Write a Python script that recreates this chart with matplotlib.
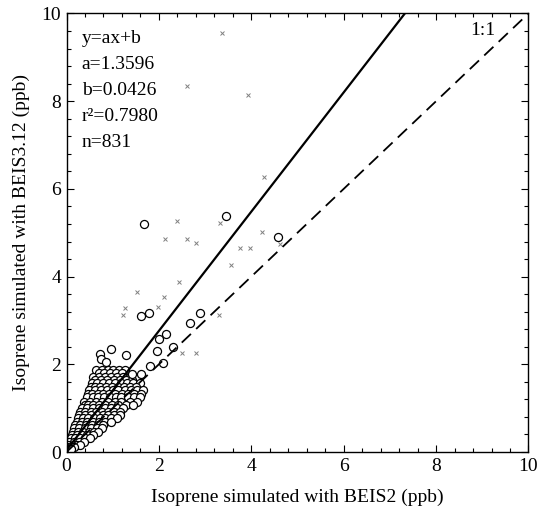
import numpy as np
import matplotlib
matplotlib.use('Agg')
import matplotlib.pyplot as plt

plt.rcParams['font.family'] = ['Liberation Serif', 'DejaVu Serif']

# regression coefficients (from the panel text)
slope = 1.3596
intercept = 0.0426

# dense cluster near the origin: y level of each row and the x positions on it
row_y = [1.87, 1.80, 1.72, 1.64, 1.57, 1.49, 1.41, 1.33, 1.26, 1.15, 1.08,
         1.00, 0.92, 0.84, 0.77, 0.69, 0.61, 0.54, 0.46, 0.39, 0.31, 0.23,
         0.17, 0.12, 0.06]
row_x = [
    [0.64, 0.76, 0.89, 1.01, 1.14, 1.27],
    [0.70, 0.82, 0.95, 1.08, 1.20],
    [0.58, 0.71, 0.83, 0.96, 1.09, 1.22, 1.37],
    [0.62, 0.75, 0.88, 1.02, 1.15, 1.28, 1.42],
    [0.55, 0.67, 0.80, 0.93, 1.05, 1.17, 1.30, 1.45, 1.59],
    [0.52, 0.61, 0.73, 0.86, 0.99, 1.11, 1.24, 1.37, 1.51],
    [0.49, 0.62, 0.74, 0.87, 1.00, 1.12, 1.27, 1.39, 1.53, 1.66],
    [0.47, 0.56, 0.68, 0.80, 0.93, 1.06, 1.20, 1.33, 1.47, 1.61],
    [0.44, 0.57, 0.69, 0.81, 0.94, 1.07, 1.19, 1.34, 1.46, 1.59],
    [0.38, 0.51, 0.64, 0.77, 0.90, 1.05, 1.19, 1.37, 1.53],
    [0.41, 0.47, 0.58, 0.70, 0.84, 0.98, 1.12, 1.28, 1.44],
    [0.33, 0.45, 0.58, 0.71, 0.83, 0.96, 1.09, 1.23],
    [0.30, 0.39, 0.52, 0.64, 0.77, 0.90, 1.03, 1.16],
    [0.28, 0.40, 0.52, 0.65, 0.78, 0.90, 1.03, 1.16],
    [0.25, 0.35, 0.46, 0.59, 0.72, 0.84, 0.97, 1.09],
    [0.22, 0.33, 0.45, 0.58, 0.71, 0.83, 0.96],
    [0.19, 0.30, 0.42, 0.55, 0.68, 0.80],
    [0.16, 0.28, 0.40, 0.52, 0.65, 0.76],
    [0.14, 0.25, 0.36, 0.48, 0.60, 0.68],
    [0.11, 0.22, 0.33, 0.45, 0.57],
    [0.09, 0.19, 0.30, 0.41, 0.50],
    [0.06, 0.16, 0.28, 0.38],
    [0.04, 0.13, 0.22, 0.30],
    [0.02, 0.09, 0.16],
    [0.02, 0.05, 0.09],
]

# scattered circles outside the cluster
circ_x = [1.68, 3.45, 4.58, 1.61, 1.79, 2.88, 2.67, 2.15, 2.01, 2.31, 1.95,
          2.09, 1.81, 1.42, 1.61, 0.97, 0.73, 0.74, 0.85, 1.29]
circ_y = [5.20, 5.38, 4.91, 3.11, 3.17, 3.17, 2.95, 2.68, 2.58, 2.39, 2.30,
          2.02, 1.96, 1.79, 1.79, 2.34, 2.24, 2.12, 2.06, 2.21]

# faint small cross marks
cross_x = [3.37, 2.60, 3.92, 4.28, 2.39, 3.32, 2.13, 2.60, 2.80, 4.24, 3.76,
           3.97, 4.62, 3.56, 2.44, 1.53, 2.10, 1.99, 1.27, 1.23, 3.29, 2.50, 2.80]
cross_y = [9.55, 8.35, 8.14, 6.28, 5.27, 5.22, 4.85, 4.85, 4.76, 5.02, 4.65,
           4.66, 4.74, 4.26, 3.87, 3.66, 3.53, 3.31, 3.28, 3.12, 3.12, 2.25, 2.26]

stats_lines = ['y=ax+b', 'a=1.3596', 'b=0.0426', 'r\u00b2=0.7980', 'n=831']

clus_x = [x for xs in row_x for x in xs]
clus_y = [y for y, xs in zip(row_y, row_x) for _ in xs]

fig = plt.figure(figsize=(5.39, 5.18), dpi=100)
ax = fig.add_axes([0.1234, 0.1274, 0.8571, 0.8466])

ax.plot(cross_x, cross_y, 'x', color='0.5', ms=3, mew=0.7, ls='none')
ax.plot(clus_x + circ_x, clus_y + circ_y, 'o', mfc='white', mec='black',
        ms=5.8, mew=0.9, ls='none')

# 1:1 line and fitted line
ax.plot([0, 10], [0, 10], color='black', lw=1.3, dashes=(7, 4))
xf = np.array([0, (10 - intercept) / slope])
ax.plot(xf, slope * xf + intercept, color='black', lw=1.6)

ax.text(9.02, 9.62, '1:1', fontsize=14, ha='center', va='center')
for i, s in enumerate(stats_lines):
    ax.text(0.33, 9.44 - i * 0.595, s, fontsize=14, ha='left', va='center')

ax.set_xlim(0, 10)
ax.set_ylim(0, 10)
ax.set_xticks(np.arange(0, 11, 2))
ax.set_yticks(np.arange(0, 11, 2))
ax.set_xticks(np.arange(0, 10.01, 0.4), minor=True)
ax.set_yticks(np.arange(0, 10.01, 0.4), minor=True)
ax.tick_params(which='both', direction='in', top=True, right=True,
               labelsize=14, width=0.8)
ax.tick_params(which='major', length=5, pad=4)
ax.tick_params(which='minor', length=3)
for sp in ax.spines.values():
    sp.set_linewidth(1.0)

ax.set_xlabel('Isoprene simulated with BEIS2 (ppb)', fontsize=14, labelpad=10)
ax.set_ylabel('Isoprene simulated with BEIS3.12 (ppb)', fontsize=14, labelpad=8)

fig.savefig('out.png', dpi=100)
